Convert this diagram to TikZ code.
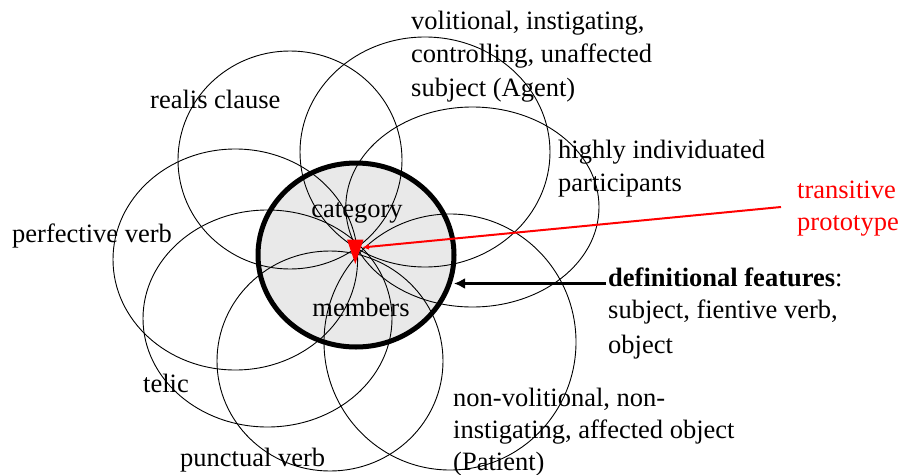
\documentclass[tikz,border=0pt]{standalone}
\usepackage{fontspec}
\setmainfont{Liberation Serif}
\usetikzlibrary{arrows.meta,shapes.geometric}
\begin{document}
\begin{tikzpicture}[x=1pt,y=-1pt,
  petal/.style={draw=black,line width=0.9pt},
  lbl/.style={anchor=base west,inner sep=0pt,font=\fontsize{26.5}{33}\selectfont},
  clbl/.style={anchor=base,inner sep=0pt,font=\fontsize{26.5}{33}\selectfont},
  redlbl/.style={lbl,text=red},
  defarrow/.style={line width=3.5pt,-{Latex[length=11pt,width=11pt]}},
  protoarrow/.style={red,line width=2pt,-{Latex[length=7pt,width=6pt]}}]
\useasboundingbox (0,0) rectangle (904,474);
% core circle fill
\fill[gray!17] (356,255) ellipse [x radius=98pt, y radius=92pt];
% petals
\draw[petal] (290,160) ellipse [x radius=112pt, y radius=109pt];
\draw[petal] (425,152) ellipse [x radius=125pt, y radius=115pt];
\draw[petal] (472.4,207) ellipse [x radius=126.6pt, y radius=100pt];
\draw[petal] (450,342) ellipse [x radius=126pt, y radius=128pt];
\draw[petal] (330,361) ellipse [x radius=113pt, y radius=110pt];
\draw[petal] (267.5,318.5) ellipse [x radius=124.5pt, y radius=108.5pt];
\draw[petal] (235.3,259.5) ellipse [x radius=122.3pt, y radius=110.5pt];
% core circle border
\node[ellipse,draw=black,line width=5pt,minimum width=196pt,minimum height=184pt,inner sep=0pt,outer sep=0pt] (core) at (356,255) {};
% prototype marker
\coordinate (proto) at (362,247.5);
\fill[red] (347,239.5) -- (363.5,239.5) -- (355.3,264) -- cycle;
% texts
\node[lbl] (realis) at (150,108) {realis clause};
\node[lbl] (agent1) at (411,29) {volitional, instigating,};
\node[lbl] (agent2) at (411,62) {controlling, unaffected};
\node[lbl] (agent3) at (411,96) {subject (Agent)};
\node[lbl] (indiv1) at (558,158) {highly individuated};
\node[lbl] (indiv2) at (558,191) {participants};
\node[redlbl] (trans1) at (797,198) {transitive};
\node[redlbl] (trans2) at (797,230) {prototype};
\node[clbl] (category) at (357,217) {category};
\node[clbl] (members) at (361,316) {members};
\node[lbl] (perf) at (12,242) {perfective verb};
\node[lbl] (def1) at (608,286) {\textbf{definitional features}:};
\node[lbl] (def2) at (608,318) {subject, fientive verb,};
\node[lbl] (def3) at (608,353) {object};
\node[lbl] (telic) at (143,392) {telic};
\node[lbl] (pat1) at (453,406) {non-volitional, non-};
\node[lbl] (pat2) at (453,438) {instigating, affected object};
\node[lbl] (pat3) at (453,470) {(Patient)};
\node[lbl] (punct) at (180,466) {punctual verb};
% connectors
\coordinate (protostart) at (781,207);
\draw[protoarrow] (protostart) -- (proto);
\coordinate (defstart) at (606,283.5);
\draw[defarrow] (defstart) -- (core.east |- defstart);
\end{tikzpicture}
\end{document}
